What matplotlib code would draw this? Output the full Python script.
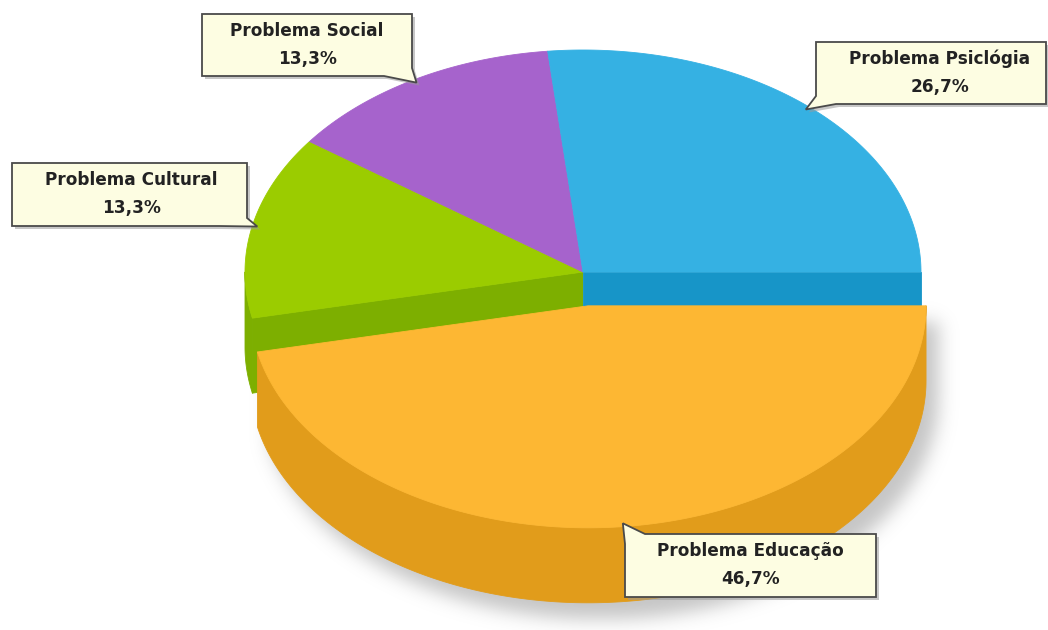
import numpy as np
import matplotlib
matplotlib.use("Agg")
from matplotlib import pyplot as plt
from matplotlib.patches import Polygon

# answers per problem (out of 15)
labels = ["Problema Educação", "Problema Cultural", "Problema Social", "Problema Psiclógia"]
counts = [7, 2, 2, 4]
top_colors = ["#fdb733", "#9bcc00", "#a663cc", "#35b1e3"]
side_colors = ["#e19c1b", "#7daf00", "#8a4fae", "#1795c8"]
exploded = [True, False, False, False]

W, H = 1048, 630
cx, cy = 583.0, 272.0          # centre of the pie top
rx, ry = 338.0, 222.0          # ellipse radii
depth = 75.0                   # thickness of the disc
explode_px = 34.0


def rim(t, ox, oy, z=0.0, k=1.0):
    t = np.radians(t)
    return np.column_stack([ox + k * rx * np.cos(t), oy + k * ry * np.sin(t) + z])


def sector(t0, t1, ox, oy):
    ts = np.linspace(t0, t1, 200)
    return np.vstack([[ox, oy], rim(ts, ox, oy)])


def wall(t0, t1, ox, oy):
    ts = np.linspace(t0, t1, 200)
    top = rim(ts, ox, oy)
    bot = rim(ts[::-1], ox, oy, depth)
    return np.vstack([top, bot])


def cut(t, ox, oy):
    p = rim([t], ox, oy)[0]
    return np.array([[ox, oy], p, p + [0, depth], [ox, oy + depth]])


total = sum(counts)
pcts = [100.0 * c / total for c in counts]
edges = np.concatenate([[0], np.cumsum(pcts) * 3.6])

fig = plt.figure(figsize=(W / 100, H / 100), dpi=100)
ax = fig.add_axes([0, 0, 1, 1])
ax.set_xlim(0, W)
ax.set_ylim(H, 0)
ax.axis("off")

centres = []
for i in range(len(counts)):
    mid = np.radians((edges[i] + edges[i + 1]) / 2)
    if exploded[i]:
        centres.append((cx + explode_px * np.cos(mid) * rx / ry * 0.93, cy + explode_px * np.sin(mid)))
    else:
        centres.append((cx, cy))

# soft shadow under the pulled-out slice
yy, xx = np.mgrid[0:H, 0:W].astype(float)
mask = np.zeros((H, W))
for i in range(len(counts)):
    if not exploded[i]:
        continue
    ox, oy = centres[i]
    for z in np.linspace(0, depth, 16):
        u = (xx - ox - 12) / rx
        v = (yy - oy - z - 16) / ry
        ang = np.degrees(np.arctan2(v, u)) % 360
        inside = (u ** 2 + v ** 2 <= 1) & (ang >= edges[i]) & (ang <= edges[i + 1])
        mask[inside] = 1.0
g = np.exp(-0.5 * (np.arange(-30, 31) / 9.0) ** 2)
g /= g.sum()
blur = np.apply_along_axis(lambda r: np.convolve(r, g, mode="same"), 1, mask)
blur = np.apply_along_axis(lambda c: np.convolve(c, g, mode="same"), 0, blur)
shade = np.zeros((H, W, 4))
shade[..., :3] = 0.55
shade[..., 3] = 0.5 * blur
ax.imshow(shade, extent=(0, W, H, 0), zorder=0, interpolation="bilinear")

# slices that stay in place: exposed side faces, then tops
kw = dict(linewidth=0.6, joinstyle="round")
for i in range(len(counts)):
    if exploded[i]:
        continue
    ox, oy = centres[i]
    t0, t1 = edges[i], edges[i + 1]
    if t0 < 180:
        ax.add_patch(Polygon(wall(t0, min(t1, 180), ox, oy), closed=True,
                             fc=side_colors[i], ec=side_colors[i], zorder=1, **kw))
    for j in range(len(counts)):
        if exploded[j] and np.isclose(edges[j + 1] % 360, t0 % 360):
            ax.add_patch(Polygon(cut(t0, ox, oy), closed=True,
                                 fc=side_colors[i], ec=side_colors[i], zorder=1, **kw))
        if exploded[j] and np.isclose(edges[j] % 360, t1 % 360):
            ax.add_patch(Polygon(cut(t1, ox, oy), closed=True,
                                 fc=side_colors[i], ec=side_colors[i], zorder=1, **kw))
for i in range(len(counts)):
    if exploded[i]:
        continue
    ox, oy = centres[i]
    ax.add_patch(Polygon(sector(edges[i], edges[i + 1], ox, oy), closed=True,
                         fc=top_colors[i], ec=top_colors[i], zorder=2, **kw))

# pulled-out slice drawn on top
for i in range(len(counts)):
    if not exploded[i]:
        continue
    ox, oy = centres[i]
    t0, t1 = edges[i], min(edges[i + 1], 180)
    ax.add_patch(Polygon(wall(t0, t1, ox, oy), closed=True,
                         fc=side_colors[i], ec=side_colors[i], zorder=3, **kw))
    ax.add_patch(Polygon(sector(edges[i], edges[i + 1], ox, oy), closed=True,
                         fc=top_colors[i], ec=top_colors[i], zorder=4, **kw))

# callout boxes: (x0, y0, x1, y1), pointer base corner, text centre x
boxes = [
    ((625, 534, 876, 597), "tl", 750),
    ((12, 163, 247, 226), "br", 131),
    ((202, 14, 412, 76), "br", 307),
    ((816, 42, 1046, 104), "bl", 940),
]


def callout(box, corner, tip):
    x0, y0, x1, y1 = box
    s = 20
    if corner == "br":
        pts = [(x0, y0), (x1, y0), (x1, y1 - 8), tip, (x1 - s - 8, y1), (x0, y1)]
    elif corner == "bl":
        pts = [(x0, y0), (x1, y0), (x1, y1), (x0 + s, y1), tip, (x0, y1 - 8)]
    else:
        pts = [(x0 + s, y0), (x1, y0), (x1, y1), (x0, y1), (x0, y0 + 10), tip]
    return np.array(pts, dtype=float)


for i, (box, corner, tx) in enumerate(boxes):
    ox, oy = centres[i]
    mid = (edges[i] + edges[i + 1]) / 2
    tip = tuple(rim([mid], ox, oy, k=0.985)[0])
    pts = callout(box, corner, tip)
    ax.add_patch(Polygon(pts + [3, 3], closed=True, fc="#9a9a9a", ec="none",
                         alpha=0.55, zorder=5))
    ax.add_patch(Polygon(pts, closed=True, fc="#fdfde2", ec="#4a4a4a",
                         lw=1.3, joinstyle="miter", zorder=6))
    y0 = box[1]
    pct = f"{pcts[i]:.1f}%".replace(".", ",")
    ax.text(tx, y0 + 17, labels[i], ha="center", va="center", fontsize=12.2,
            fontweight="bold", color="#222222", zorder=7)
    ax.text(tx, y0 + 45, pct, ha="center", va="center", fontsize=12.2,
            fontweight="bold", color="#222222", zorder=7)

fig.savefig("out.png", dpi=100, facecolor="white")
